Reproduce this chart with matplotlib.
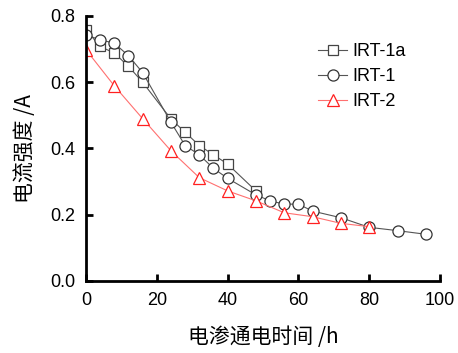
import matplotlib
matplotlib.use("Agg")
import matplotlib.pyplot as plt

x_1a = [0, 4, 8, 12, 16, 24, 28, 32, 36, 40, 48]
y_1a = [0.758, 0.708, 0.688, 0.648, 0.600, 0.489, 0.449, 0.409, 0.381, 0.353, 0.272]

x_1 = [0, 4, 8, 12, 16, 24, 28, 32, 36, 40, 48, 52, 56, 60, 64, 72, 80, 88, 96]
y_1 = [0.743, 0.728, 0.718, 0.680, 0.629, 0.479, 0.409, 0.381, 0.340, 0.310, 0.260,
       0.242, 0.232, 0.232, 0.211, 0.191, 0.162, 0.152, 0.141]

x_2 = [0, 8, 16, 24, 32, 40, 48, 56, 64, 72, 80]
y_2 = [0.698, 0.589, 0.490, 0.393, 0.312, 0.272, 0.242, 0.206, 0.194, 0.174, 0.164]

labels = ["IRT-1a", "IRT-1", "IRT-2"]
xticks = [0, 20, 40, 60, 80, 100]
yticks = [0.0, 0.2, 0.4, 0.6, 0.8]

plt.rcParams['font.family'] = ['Liberation Sans', 'Noto Sans CJK SC', 'DejaVu Sans']

fig = plt.figure(figsize=(4.58, 3.53), dpi=100)
ax = fig.add_axes([0.1878, 0.204, 0.7729, 0.7507])

ax.plot(x_1a, y_1a, color='#555555', lw=0.8, marker='s', ms=7.5, mfc='white',
        mec='#444444', mew=0.9, label=labels[0])
ax.plot(x_1, y_1, color='#555555', lw=0.8, marker='o', ms=8, mfc='white',
        mec='#333333', mew=0.9, label=labels[1])
ax.plot(x_2, y_2, color='#ff7070', lw=0.8, marker='^', ms=8, mfc='white',
        mec='#ff2020', mew=0.9, label=labels[2])

ax.set_xlim(0, 100)
ax.set_ylim(0, 0.8)
ax.set_xticks(xticks)
ax.set_yticks(yticks)
ax.set_yticklabels([f"{v:.1f}" for v in yticks])
for s in ['top', 'right']:
    ax.spines[s].set_visible(False)
for s in ['left', 'bottom']:
    ax.spines[s].set_linewidth(2)
ax.tick_params(direction='in', length=5, width=2, labelsize=13, pad=8)

ax.set_ylabel("电流强度 /A", fontsize=15, family=['Noto Sans CJK SC', 'DejaVu Sans'],
              labelpad=10, fontweight='light')
ax.set_xlabel("电渗通电时间 /h", fontsize=15, family=['Noto Sans CJK SC', 'DejaVu Sans'],
              labelpad=12, fontweight='light')

ax.legend(loc='upper right', bbox_to_anchor=(0.95, 0.96), frameon=False, fontsize=13,
          handlelength=1.6, handletextpad=0.3, labelspacing=0.45)

fig.savefig("out.png", dpi=100)
